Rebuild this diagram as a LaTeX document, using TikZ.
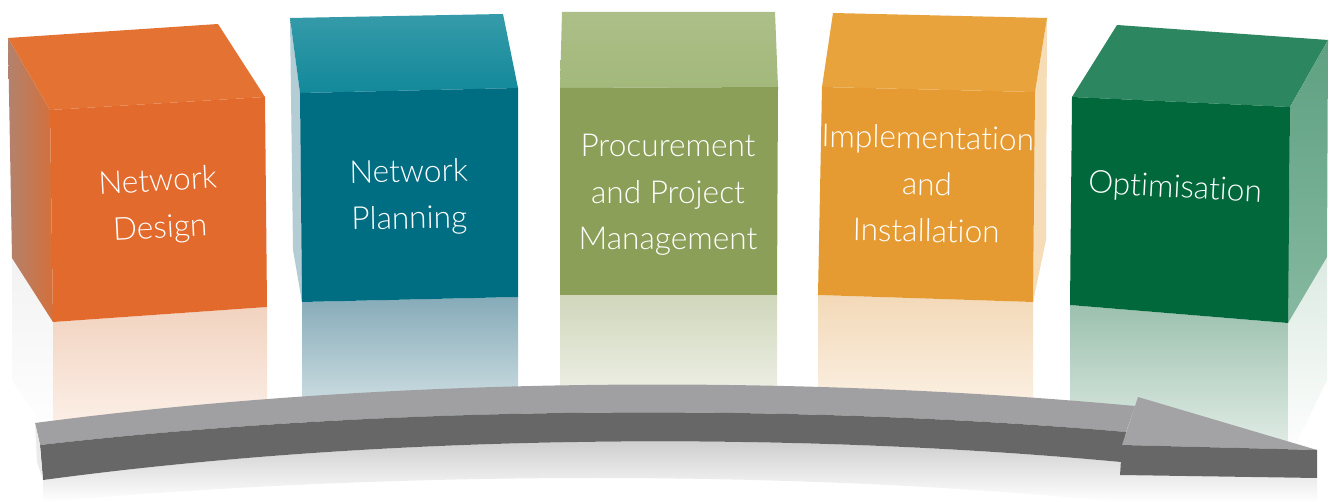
\documentclass[tikz,border=0pt]{standalone}
\usepackage{fontspec}
\setmainfont{Lato}[UprightFont=* Light,Ligatures=NoCommon]
\usepackage{tikz}
\usetikzlibrary{calc}

% block colours
\definecolor{orfront}{HTML}{E26A2C}
\definecolor{ortop}{HTML}{E47333}
\definecolor{orside}{HTML}{B2826E}
\definecolor{orsidelit}{HTML}{D4703A}
\definecolor{tlfront}{HTML}{006E82}
\definecolor{tltop}{HTML}{12899A}
\definecolor{tlside}{HTML}{B4CCD3}
\definecolor{olfront}{HTML}{8B9F59}
\definecolor{oltop}{HTML}{A3B87B}
\definecolor{ambfront}{HTML}{E59B32}
\definecolor{ambtop}{HTML}{E8A33C}
\definecolor{ambside}{HTML}{F6DDB8}
\definecolor{dgfront}{HTML}{00683A}
\definecolor{dgtop}{HTML}{2C8660}
\definecolor{dgside}{HTML}{5EA181}
\definecolor{arrowtop}{HTML}{A0A0A3}
\definecolor{arrowside}{HTML}{676767}
% floor reflections
\definecolor{orrefl}{HTML}{F2D3C0}
\definecolor{orreflend}{HTML}{FDF3EC}
\definecolor{tlrefl}{HTML}{86ABB8}
\definecolor{tlreflend}{HTML}{D6E4E8}
\definecolor{olrefl}{HTML}{D0D7BB}
\definecolor{olreflend}{HTML}{F2F3EC}
\definecolor{ambrefl}{HTML}{F3D9B8}
\definecolor{ambreflend}{HTML}{FCF3E8}
\definecolor{dgrefl}{HTML}{9CC1AE}
\definecolor{dgreflend}{HTML}{ECF3EF}
\definecolor{dgsiderefl}{HTML}{DCEAE2}

\begin{document}
\begin{tikzpicture}[x=0.02cm,y=-0.02cm,
	cubetext/.style={text=white,align=center,inner sep=0pt,
		font=\fontsize{18}{26.5}\selectfont}]
	
	\useasboundingbox (0,0) rectangle (1331,502);
	\fill[white] (0,0) rectangle (1331,502);
	
	% reflections on the floor
	\shade[top color=black!5,bottom color=white] (12,258) -- (53,322) -- (53,440) -- (12,380) -- cycle;
	\shade[top color=orrefl,bottom color=orreflend] (53,322) -- (267,307) -- (267,430) -- (53,440) -- cycle;
	\shade[top color=tlrefl,bottom color=tlreflend] (302,302) -- (518,297) -- (518,420) -- (302,420) -- cycle;
	\shade[top color=olrefl,bottom color=olreflend] (560,295) -- (777,295) -- (777,410) -- (560,410) -- cycle;
	\shade[top color=ambrefl,bottom color=ambreflend] (818,295) -- (1033,302) -- (1033,420) -- (818,420) -- cycle;
	\shade[top color=dgrefl,bottom color=dgreflend] (1070,305) -- (1288,323) -- (1288,470) -- (1070,470) -- cycle;
	\shade[top color=dgsiderefl,bottom color=white] (1288,323) -- (1327,257) -- (1327,380) -- (1288,460) -- cycle;
	
	% orange block
	\shade[left color=orside,right color=orsidelit] (8,38) -- (50,110) -- (53,322) -- (12,258) -- cycle;
	\fill[ortop] (8,38) -- (218,24) -- (265,97) -- (50,110) -- cycle;
	\fill[orfront] (50,110) -- (265,97) -- (267,307) -- (53,322) -- cycle;
	
	% teal block
	\fill[tlside] (290,18) -- (300,93) -- (302,302) -- (293,250) -- cycle;
	\shade[top color=tltop!85!white,bottom color=tltop] (290,18) -- (503,14) -- (518,88) -- (300,93) -- cycle;
	\fill[tlfront] (300,93) -- (518,88) -- (518,297) -- (302,302) -- cycle;
	
	% olive block
	\shade[top color=oltop!90!white,bottom color=oltop] (562,12) -- (775,12) -- (778,87) -- (560,88) -- cycle;
	\fill[olfront] (560,88) -- (778,87) -- (777,295) -- (560,295) -- cycle;
	
	% amber block
	\fill[ambside] (1047,18) -- (1035,92) -- (1033,302) -- (1046,240) -- cycle;
	\fill[ambtop] (833,13) -- (1047,18) -- (1035,92) -- (822,87) -- cycle;
	\fill[ambfront] (822,87) -- (1035,92) -- (1033,302) -- (818,295) -- cycle;
	
	% dark green block
	\fill[dgtop] (1117,25) -- (1328,40) -- (1290,107) -- (1072,97) -- cycle;
	\shade[top color=dgside,bottom color=dgside!75!white] (1290,107) -- (1328,40) -- (1327,257) -- (1288,323) -- cycle;
	\fill[dgfront] (1072,97) -- (1290,107) -- (1288,323) -- (1070,305) -- cycle;
	
	\node[cubetext,rotate=3] (design) at (159,206) {Network\\Design};
	\node[cubetext,rotate=1] (planning) at (409,197) {Network\\Planning};
	\node[cubetext] (procure) at (668,195) {Procurement\\and Project\\Management};
	\node[cubetext,rotate=-1] (install) at (927,184) {Implementation\\and\\Installation};
	\node[cubetext,rotate=-3] (optimise) at (1175,189) {Optimisation};
	
	% curved arrow along the floor
	\shade[top color=black!22,bottom color=white]
		(43,480) .. controls (400,432) and (800,432) .. (1121,462) -- (1120,475) -- (1317,478)
		-- (1317,502) -- (1120,502) .. controls (800,470) and (400,470) .. (43,502) -- cycle;
	\fill[arrowtop] (35,423) .. controls (400,375) and (800,375) .. (1135,406)
		-- (1126,432) .. controls (800,404) and (400,404) .. (40,445) -- cycle;
	\fill[arrowside] (40,445) .. controls (400,404) and (800,404) .. (1126,432)
		-- (1121,462) .. controls (800,432) and (400,432) .. (43,480) -- cycle;
	\fill[black!8] (35,423) -- (40,445) -- (43,480) -- (37,462) -- cycle;
	\fill[arrowtop!97!white] (1138,397) -- (1317,450) -- (1122,445) -- cycle;
	\fill[arrowside] (1122,445) -- (1317,450) -- (1317,478) -- (1120,475) -- cycle;
\end{tikzpicture}
\end{document}
